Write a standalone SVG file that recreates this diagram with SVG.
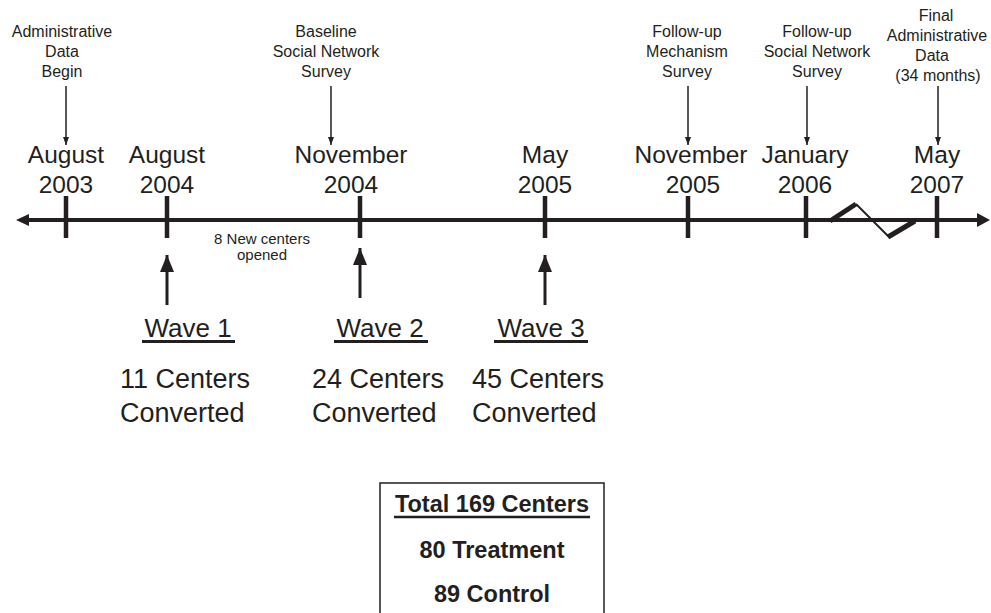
<svg xmlns="http://www.w3.org/2000/svg" width="991" height="613" viewBox="0 0 991 613">
<defs>
<style>
text{font-family:"Liberation Sans",Arial,sans-serif;fill:#231f20;text-anchor:middle}
.sm{font-size:16px}
.mo{font-size:24.5px}
.wv{font-size:26px}
.cn{font-size:27px;text-anchor:start}
.bx{font-size:23.5px;font-weight:bold}
.note{font-size:15px}
.tick{stroke:#231f20;stroke-width:4.5}
.thin{stroke:#231f20;stroke-width:1.5;fill:none}
.thick{stroke:#231f20;stroke-width:3;fill:none}
.ul{stroke:#231f20;stroke-width:3}
</style>
<marker id="ah" markerWidth="8" markerHeight="6" refX="8" refY="3" orient="auto" markerUnits="userSpaceOnUse">
<path d="M0,0 L8,3 L0,6 Z" fill="#231f20"/>
</marker>
<marker id="ahb" markerWidth="17" markerHeight="14" refX="17" refY="7" orient="auto" markerUnits="userSpaceOnUse">
<path d="M0,0 L17,7 L0,14 Z" fill="#231f20"/>
</marker>
</defs>
<rect width="991" height="613" fill="#fff"/>

<g id="timeline">
<line x1="26" y1="220" x2="979" y2="220" stroke="#231f20" stroke-width="4"/>
<path d="M16,220 L29,214 L29,226 Z" fill="#231f20"/>
<path d="M990,220 L977,213 L977,227 Z" fill="#231f20"/>
<line class="tick" x1="66" y1="196" x2="66" y2="238"/>
<line class="tick" x1="167" y1="196" x2="167" y2="238"/>
<line class="tick" x1="360" y1="196" x2="360" y2="238"/>
<line class="tick" x1="545" y1="196" x2="545" y2="238"/>
<line class="tick" x1="688" y1="196" x2="688" y2="238"/>
<line class="tick" x1="806" y1="196" x2="806" y2="238"/>
<line class="tick" x1="937" y1="196" x2="937" y2="238"/>
<line x1="830" y1="221" x2="856" y2="204" stroke="#231f20" stroke-width="5"/>
<line x1="856" y1="204" x2="890" y2="238" stroke="#231f20" stroke-width="2"/>
<line x1="888" y1="237" x2="915" y2="221" stroke="#231f20" stroke-width="5"/>
</g>

<g id="date-aug2003"><text class="mo" x="66" y="163">August</text><text class="mo" x="66" y="193">2003</text></g>
<g id="date-aug2004"><text class="mo" x="167" y="163">August</text><text class="mo" x="167" y="193">2004</text></g>
<g id="date-nov2004"><text class="mo" x="351" y="163">November</text><text class="mo" x="351" y="193">2004</text></g>
<g id="date-may2005"><text class="mo" x="545" y="163">May</text><text class="mo" x="545" y="193">2005</text></g>
<g id="date-nov2005"><text class="mo" x="691" y="163">November</text><text class="mo" x="693" y="193">2005</text></g>
<g id="date-jan2006"><text class="mo" x="805" y="163">January</text><text class="mo" x="805" y="193">2006</text></g>
<g id="date-may2007"><text class="mo" x="937" y="163">May</text><text class="mo" x="937" y="193">2007</text></g>

<g id="label-admin-begin"><text class="sm" x="62" y="37">Administrative</text><text class="sm" x="62" y="57">Data</text><text class="sm" x="62" y="77">Begin</text></g>
<g id="label-baseline"><text class="sm" x="326" y="37">Baseline</text><text class="sm" x="326" y="57">Social Network</text><text class="sm" x="326" y="77">Survey</text></g>
<g id="label-mechanism"><text class="sm" x="687" y="37">Follow-up</text><text class="sm" x="687" y="57">Mechanism</text><text class="sm" x="687" y="77">Survey</text></g>
<g id="label-followup-sn"><text class="sm" x="817" y="37">Follow-up</text><text class="sm" x="817" y="57">Social Network</text><text class="sm" x="817" y="77">Survey</text></g>
<g id="label-final"><text class="sm" x="936" y="21">Final</text><text class="sm" x="937" y="41">Administrative</text><text class="sm" x="932" y="61">Data</text><text class="sm" x="938" y="81">(34 months)</text></g>

<g id="note-new-centers"><text class="note" x="262" y="244">8 New centers</text><text class="note" x="262" y="260">opened</text></g>

<g id="wave1"><text class="wv" x="188" y="337">Wave 1</text><line class="ul" x1="142" y1="341.5" x2="235" y2="341.5"/><text class="cn" x="120" y="388">11 Centers</text><text class="cn" x="120" y="422">Converted</text></g>
<g id="wave2"><text class="wv" x="380" y="337">Wave 2</text><line class="ul" x1="334" y1="341.5" x2="428" y2="341.5"/><text class="cn" x="312" y="388">24 Centers</text><text class="cn" x="312" y="422">Converted</text></g>
<g id="wave3"><text class="wv" x="541" y="337">Wave 3</text><line class="ul" x1="494" y1="341.5" x2="588" y2="341.5"/><text class="cn" x="472" y="388">45 Centers</text><text class="cn" x="472" y="422">Converted</text></g>

<g id="totals-box">
<rect x="380" y="483" width="224" height="140" fill="none" stroke="#231f20" stroke-width="1.5"/>
<text class="bx" x="492" y="512">Total 169 Centers</text>
<line stroke="#231f20" stroke-width="2.5" x1="394" y1="517" x2="590" y2="517"/>
<text class="bx" x="492" y="558">80 Treatment</text>
<text class="bx" x="492" y="602">89 Control</text>
</g>

<g id="connectors">
<line class="thin" x1="66" y1="86" x2="66" y2="145" marker-end="url(#ah)"/>
<line class="thin" x1="331" y1="86" x2="331" y2="145" marker-end="url(#ah)"/>
<line class="thin" x1="688" y1="86" x2="688" y2="145" marker-end="url(#ah)"/>
<line class="thin" x1="807" y1="86" x2="807" y2="145" marker-end="url(#ah)"/>
<line class="thin" x1="938" y1="86" x2="938" y2="145" marker-end="url(#ah)"/>
<line class="thick" x1="167" y1="305" x2="167" y2="255" marker-end="url(#ahb)"/>
<line class="thick" x1="360" y1="298" x2="360" y2="248" marker-end="url(#ahb)"/>
<line class="thick" x1="545" y1="305" x2="545" y2="255" marker-end="url(#ahb)"/>
</g>
</svg>
